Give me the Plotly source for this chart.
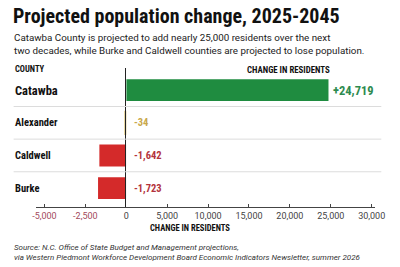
import plotly.graph_objects as go

counties = ["Catawba", "Alexander", "Caldwell", "Burke"]
changes = [24719, -34, -1642, -1723]
bar_colors = ["#1f8c40", "#d8bc5e", "#d42a2a", "#d42a2a"]
label_colors = ["#2e8b4f", "#c9a84b", "#b3333c", "#b3333c"]
county_sizes = [12.5, 10.5, 10.5, 10.5]

neg_tickvals = [-5000, -2500]
neg_ticktext = ["-5,000", "-2,500"]
pos_tickvals = [0, 5000, 10000, 15000, 20000, 25000, 30000]
pos_ticktext = ["0", "5,000", "10,000", "15,000", "20,000", "25,000", "30,000"]

title = "Projected population change, 2025-2045"
subtitle = ("Catawba County is projected to add nearly 25,000 residents over the next<br>"
            "two decades, while Burke and Caldwell counties are projected to lose population.")
source = ("Source: N.C. Office of State Budget and Management projections,<br>"
          "via Western Piedmont Workforce Development Board Economic Indicators Newsletter, summer 2026")

COND = "Liberation Sans Narrow, Roboto Condensed, DejaVu Sans Condensed, Roboto, sans-serif"
BODY = "Roboto, Liberation Sans, sans-serif"

W, H = 400, 267
TOP, BOT = 68, 207
PH = BOT - TOP


def py(pix):
    return (BOT - pix) / PH


fig = go.Figure()

neg_x = [v if v < 0 else None for v in changes]
pos_x = [v if v > 0 else None for v in changes]

fig.add_trace(go.Bar(x=neg_x, y=counties, orientation="h", xaxis="x", yaxis="y",
                     marker=dict(color=bar_colors, line=dict(color=bar_colors, width=[0, 2.5, 0, 0])),
                     hoverinfo="skip", showlegend=False))
fig.add_trace(go.Bar(x=pos_x, y=counties, orientation="h", xaxis="x2", yaxis="y",
                     marker=dict(color=bar_colors, line=dict(width=0)),
                     hoverinfo="skip", showlegend=False))

annotations = []
for i, (c, v) in enumerate(zip(counties, changes)):
    annotations.append(dict(x=9 / W, xref="paper", y=c, yref="y", text=f"<b>{c}</b>",
                            xanchor="left", yanchor="middle", showarrow=False,
                            font=dict(family=COND, size=county_sizes[i], color="#111111")))
    if v > 0:
        annotations.append(dict(x=v, xref="x2", y=c, yref="y", text=f"<b>{v:+,}</b>",
                                xanchor="left", yanchor="middle", showarrow=False, xshift=3,
                                font=dict(family=COND, size=12.5, color=label_colors[i])))
    else:
        annotations.append(dict(x=0, xref="x2", y=c, yref="y", text=f"<b>{v:+,}</b>",
                                xanchor="left", yanchor="middle", showarrow=False, xshift=6,
                                font=dict(family=COND, size=10.5, color=label_colors[i])))

annotations += [
    dict(x=7 / W, y=py(16), xref="paper", yref="paper", text=f"<b>{title}</b>",
         xanchor="left", yanchor="middle", showarrow=False,
         font=dict(family=COND, size=20, color="#111111")),
    dict(x=8 / W, y=py(43.5), xref="paper", yref="paper", text=subtitle, align="left",
         xanchor="left", yanchor="middle", showarrow=False,
         font=dict(family=BODY, size=9.8, color="#222222")),
    dict(x=9 / W, y=py(69), xref="paper", yref="paper", text="<b>COUNTY</b>",
         xanchor="left", yanchor="middle", showarrow=False,
         font=dict(family=COND, size=8.5, color="#111111")),
    dict(x=341 / W, y=py(70), xref="paper", yref="paper", text="<b>CHANGE IN RESIDENTS</b>",
         xanchor="right", yanchor="middle", showarrow=False,
         font=dict(family=COND, size=8.8, color="#111111")),
    dict(x=193 / W, y=py(228), xref="paper", yref="paper", text="<b>CHANGE IN RESIDENTS</b>",
         xanchor="center", yanchor="middle", showarrow=False,
         font=dict(family=COND, size=8.5, color="#111111")),
    dict(x=8 / W, y=py(252), xref="paper", yref="paper", text=f"<i>{source}</i>", align="left",
         xanchor="left", yanchor="middle", showarrow=False,
         font=dict(family=BODY, size=8, color="#333333")),
]

shapes = []
for k in range(len(counties) - 1):
    shapes.append(dict(type="line", xref="paper", yref="y", x0=10 / W, x1=392 / W,
                       y0=k + 0.5, y1=k + 0.5, line=dict(color="#dcdcdc", width=1)))

split = 127 / W
fig.update_layout(
    width=W, height=H, margin=dict(l=0, r=0, t=TOP, b=H - BOT),
    paper_bgcolor="white", plot_bgcolor="white",
    bargap=0.33, barmode="overlay",
    xaxis=dict(domain=[33.5 / W, split], range=[-5500, 0], tickvals=neg_tickvals, ticktext=neg_ticktext,
               showgrid=False, zeroline=False, showline=True, linecolor="#444444", linewidth=1,
               ticks="inside", ticklen=3, tickcolor="#444444",
               tickfont=dict(family=BODY, size=9, color="#a34a5c"), anchor="y", fixedrange=True),
    xaxis2=dict(domain=[split, 385 / W], range=[0, 30350], tickvals=pos_tickvals, ticktext=pos_ticktext,
                showgrid=False, zeroline=False, showline=True, linecolor="#444444", linewidth=1,
                ticks="inside", ticklen=3, tickcolor="#444444",
                tickfont=dict(family=BODY, size=9, color="#444444"), anchor="y", fixedrange=True),
    yaxis=dict(type="category", categoryorder="array", categoryarray=counties,
               range=[3.58, -0.68], anchor="x2", side="left", showticklabels=False,
               showgrid=False, zeroline=False, showline=True, linecolor="#222222", linewidth=1.2,
               ticks="", fixedrange=True),
    annotations=annotations, shapes=shapes,
)

fig.write_html("out.html")
